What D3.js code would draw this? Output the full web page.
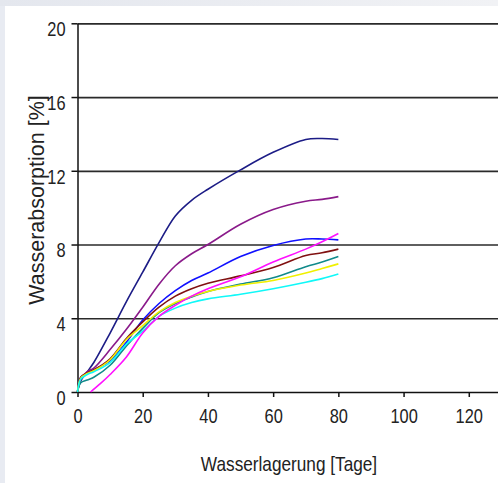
<!DOCTYPE html>
<html>
<head>
<meta charset="utf-8">
<script src="https://cdn.jsdelivr.net/npm/d3@7"></script>
<style>
  html, body { margin: 0; padding: 0; background: #e8ebf2; }
  svg { display: block; }
  .axis path, .axis line { stroke: #111; stroke-width: 1.5; }
  .axis text { font-family: "Liberation Sans", Arial, sans-serif; font-size: 20px; fill: #222; }
  .grid line { stroke: #2a2a2a; stroke-width: 1.7; }
  .grid path { display: none; }
  .label { font-family: "Liberation Sans", Arial, sans-serif; fill: #222; }
</style>
</head>
<body>
<svg width="498" height="483"></svg>
<script>
// chart values
var days = [0, 1, 3, 5, 10, 15, 20, 25, 30, 35, 40, 50, 60, 70, 75, 80];
var navy   = [0, 0.6, 1.1, 1.6, 3.2, 4.9, 6.5, 8.1, 9.55, 10.4, 11.0, 12.05, 13.0, 13.7, 13.75, 13.7];
var purple = [0, 0.7, 1.1, 1.3, 2.3, 3.4, 4.6, 5.85, 6.85, 7.5, 8.0, 9.1, 9.9, 10.35, 10.45, 10.6];
var blue   = [0, 0.8, 1.0, 1.2, 1.7, 2.7, 3.9, 4.8, 5.5, 6.05, 6.45, 7.35, 7.95, 8.3, 8.3, 8.25];
var brown  = [0, 0.8, 1.05, 1.2, 1.8, 2.9, 3.8, 4.6, 5.2, 5.6, 5.9, 6.3, 6.75, 7.4, 7.55, 7.75];
var teal   = [0, 0.5, 0.65, 0.8, 1.45, 2.5, 3.45, 4.3, 4.8, 5.15, 5.45, 5.85, 6.2, 6.8, 7.05, 7.35];
var yellow = [0, 0.75, 1.0, 1.15, 1.75, 2.85, 3.6, 4.35, 4.85, 5.2, 5.45, 5.8, 6.05, 6.45, 6.7, 6.95];
var cyan   = [0, 0.7, 0.95, 1.1, 1.6, 2.6, 3.3, 4.1, 4.55, 4.85, 5.05, 5.3, 5.6, 5.95, 6.15, 6.4];
var magentaDays = [4, 7, 10, 15, 20, 25, 30, 35, 40, 50, 60, 70, 75, 80];
var magenta     = [0, 0.45, 0.95, 1.9, 3.2, 4.1, 4.7, 5.2, 5.6, 6.25, 7.05, 7.75, 8.15, 8.6];

var xTicks = [0, 20, 40, 60, 80, 100, 120];
var yTicks = [0, 4, 8, 12, 16, 20];

var series = [
  {name: 'navy', days: days, values: navy, color: '#1c1c86'},
  {name: 'purple', days: days, values: purple, color: '#8a1a8a'},
  {name: 'blue', days: days, values: blue, color: '#1010ff'},
  {name: 'brown', days: days, values: brown, color: '#801010'},
  {name: 'teal', days: days, values: teal, color: '#108a8a'},
  {name: 'yellow', days: days, values: yellow, color: '#f0f000'},
  {name: 'cyan', days: days, values: cyan, color: '#10f8f8'},
  {name: 'magenta', days: magentaDays, values: magenta, color: '#ff10ff'}
];

var narrow = 0.82; // no narrow font installed, squeeze the text instead

var svg = d3.select('svg');

// white sheet, grey strip left and top
var bg = svg.append('defs').append('linearGradient').attr('id', 'topfade');
bg.append('stop').attr('offset', '0%').attr('stop-color', '#e4e7ee');
bg.append('stop').attr('offset', '100%').attr('stop-color', '#f1f2f5');
svg.append('rect').attr('x', 0).attr('y', 0).attr('width', 498).attr('height', 6).attr('fill', 'url(#topfade)');
svg.append('rect').attr('x', 5).attr('y', 6).attr('width', 493).attr('height', 477).attr('fill', '#fff');

//scales
var xScale = d3.scaleLinear().domain([0, 140]).range([77.5, 534]);
var yScale = d3.scaleLinear().domain([0, 20]).range([392, 23.3]);

// grid lines
svg.append('g').attr('class', 'grid')
  .attr('transform', 'translate(77.5,0)')
  .call(d3.axisRight(yScale).tickValues(yTicks.slice(1)).tickSize(460).tickFormat(''));

// y axis
var yAxis = svg.append('g').attr('class', 'axis')
  .attr('transform', 'translate(77.5,0)')
  .call(d3.axisLeft(yScale).tickValues(yTicks).tickSize(6).tickSizeOuter(0));
yAxis.selectAll('text')
  .attr('x', -12 / narrow)
  .attr('y', 6)
  .attr('transform', 'scale(' + narrow + ',1)');

// x axis
var xAxis = svg.append('g').attr('class', 'axis')
  .attr('transform', 'translate(0,392)')
  .call(d3.axisBottom(xScale).tickValues(xTicks).tickSize(5).tickSizeOuter(0).tickPadding(12));
xAxis.selectAll('text').attr('transform', 'scale(' + narrow + ',1)');

// curves
var line = d3.line()
  .x(d => xScale(d[0]))
  .y(d => yScale(d[1]))
  .curve(d3.curveCatmullRom.alpha(0.5));

svg.append('g').selectAll('path')
  .data(series)
  .enter().append('path')
  .attr('d', s => line(s.days.map((d, i) => [d, s.values[i]])))
  .attr('fill', 'none')
  .attr('stroke', s => s.color)
  .attr('stroke-width', 1.6)
  .attr('stroke-linejoin', 'round');

// axis titles
svg.append('text').attr('class', 'label')
  .attr('transform', 'translate(289,471) scale(' + narrow + ',1)')
  .attr('text-anchor', 'middle')
  .style('font-size', '21px')
  .text('Wasserlagerung [Tage]');

svg.append('text').attr('class', 'label')
  .attr('transform', 'translate(44,200) rotate(-90)')
  .attr('text-anchor', 'middle')
  .style('font-size', '21.5px')
  .text('Wasserabsorption [%]');
</script>
</body>
</html>
